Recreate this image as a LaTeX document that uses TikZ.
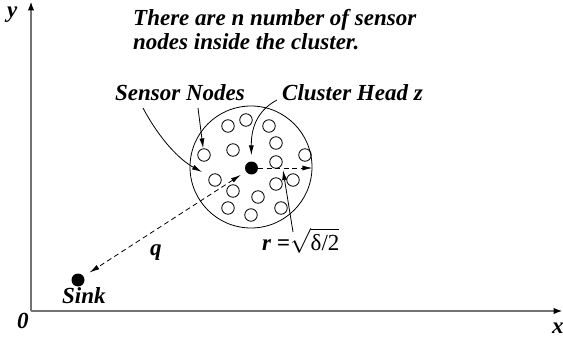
\documentclass[tikz,border=0pt]{standalone}
\usepackage{fontspec}
\setmainfont{Liberation Serif}
\usetikzlibrary{arrows.meta}
\begin{document}
\begin{tikzpicture}[x=1pt,y=-1pt,
  lbl/.style={inner sep=0pt,anchor=base west,font=\fontsize{23}{24}\selectfont\bfseries\itshape},
  sensor/.style={circle,draw,minimum size=12.5pt,inner sep=0pt,line width=0.8pt},
  dot/.style={circle,fill,minimum size=13pt,inner sep=0pt},
  axis/.style={draw=black!55,line width=1.5pt,-{Latex[length=9pt,width=6.5pt,color=black]}},
  pointer/.style={line width=0.8pt,-{Latex[length=10pt,width=5pt]}},
  dash line/.style={line width=0.8pt,dash pattern=on 5pt off 3.5pt}
]
\useasboundingbox (0,0) rectangle (563,345);
% axes
\coordinate (O) at (31,311);
\coordinate (ytop) at (31,1.5);
\coordinate (xend) at (562.5,311);
\draw[axis] (O) -- (ytop);
\draw[axis] (O) -- (xend);
\node[lbl] (ylab) at (7,18) {y};
\node[lbl] (xlab) at (552,333) {x};
\node[lbl] (olab) at (17,328) {0};
% texts
\node[lbl] (t1) at (133,26) {There are n number of sensor};
\node[lbl] (t2) at (133,50) {nodes inside the cluster.};
\node[lbl] (snl) at (115,100) {Sensor Nodes};
\node[lbl] (chl) at (282,100) {Cluster Head z};
\node[lbl] (sinkl) at (62,303) {Sink};
\node[lbl] (ql) at (150,255) {q};
\node[lbl] (rl) at (262,250) {r =\(\sqrt{\hbox{\normalfont\fontsize{23}{24}\selectfont δ/2}}\)};
% cluster
\node[circle,draw,line width=0.8pt,minimum size=122pt,inner sep=0pt] (cl) at (251,167) {};
\foreach \i/\p in {1/{228,126},2/{246,120},3/{269,126},4/{276,143},5/{233,150},6/{204,155},
  7/{276,162},8/{305,155},9/{215,180},10/{233,191},11/{276,184},12/{293,180},
  13/{258,197},14/{228,208},15/{251,215},16/{281,208}}
  \node[sensor] (s\i) at (\p) {};
\node[dot] (z) at (251.5,168) {};
\node[dot] (sink) at (78,280) {};
% connectors
\draw[dash line,{Latex[length=10pt,width=5pt]}-{Latex[length=10pt,width=5pt]},shorten <=6pt,shorten >=7pt] (z) -- (sink);
\draw[dash line,-{Latex[length=10pt,width=5pt]}] (z) -- (z -| cl.east);
\coordinate (snA) at (143,108);
\coordinate (snAend) at (202,172);
\draw[pointer] (snA) .. controls (160,140) and (180,160) .. (snAend);
\coordinate (snB) at (198,108);
\draw[pointer] (snB) -- (s6);
\coordinate (chA) at (277,100);
\draw[pointer,shorten >=6pt] (chA) .. controls (262,108) and (251,122) .. (z.north);
\coordinate (rA) at (293,232);
\coordinate (rT) at (283,170);
\draw[pointer] (rA) -- (rT);
\end{tikzpicture}
\end{document}
